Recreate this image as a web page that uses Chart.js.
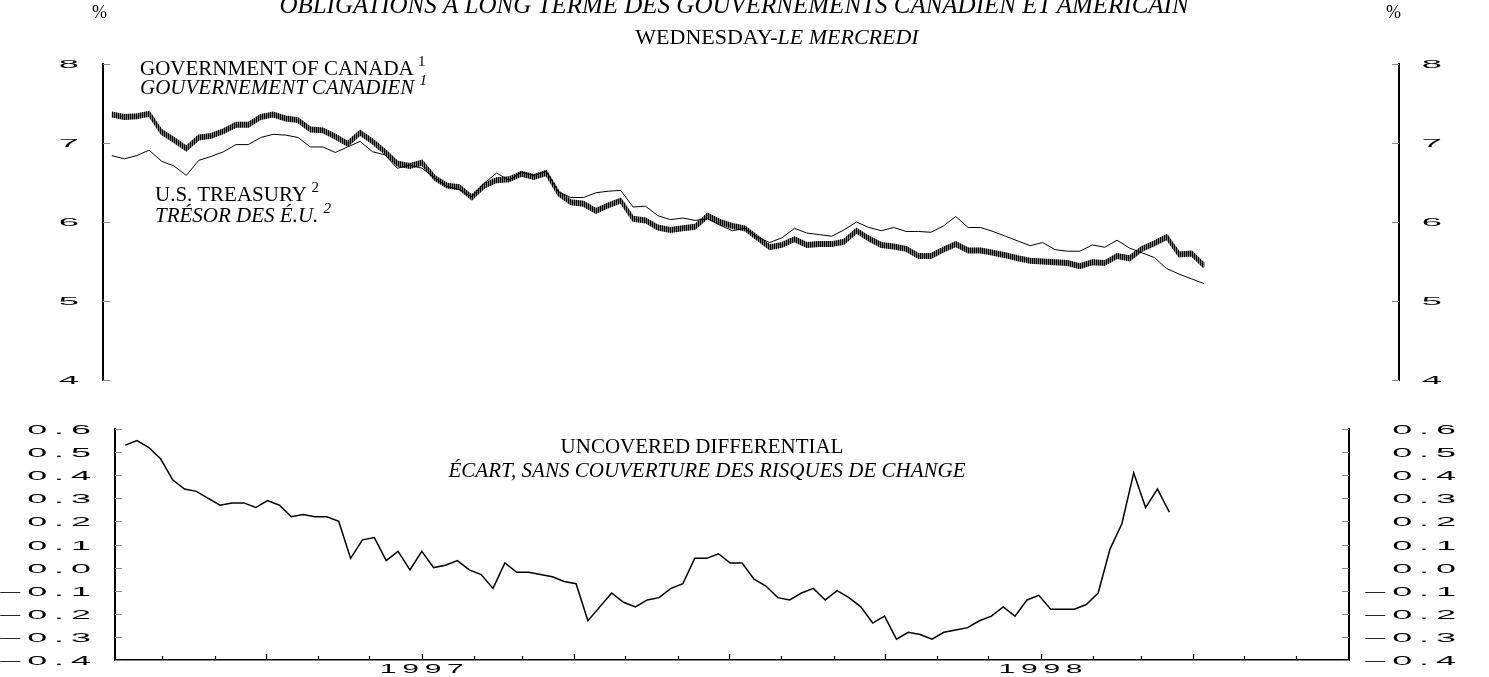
<!DOCTYPE html>
<html>
<head>
<meta charset="utf-8">
<script src="https://cdn.jsdelivr.net/npm/chart.js@4.4.1/dist/chart.umd.min.js"></script>
<style>
  html, body { margin: 0; padding: 0; background: #fff; }
  body { position: relative; width: 1489px; height: 677px; overflow: hidden; font-family: "Liberation Serif", serif; color: #000; }
  canvas { position: absolute; left: 0; }
  .lbl { position: absolute; white-space: nowrap; font-size: 21px; line-height: 21px; }
  .it { font-style: italic; }
  .sup { font-size: 15px; position: relative; top: -9px; }
  .ctr { transform: translateX(-50%); }
</style>
</head>
<body>
<canvas id="rates" width="1489" height="400" style="top:0"></canvas>
<canvas id="spread" width="1489" height="277" style="top:400px"></canvas>

<div class="lbl" style="left:92px;top:3px;font-size:18px;line-height:18px">%</div>
<div class="lbl" style="left:1386px;top:3px;font-size:18px;line-height:18px">%</div>
<div class="lbl it ctr" style="left:734px;top:-8px;font-size:25px;line-height:25px">OBLIGATIONS À LONG TERME DES GOUVERNEMENTS CANADIEN ET AMÉRICAIN</div>
<div class="lbl ctr" style="left:777px;top:26px;font-size:22px;line-height:22px">WEDNESDAY-<span class="it">LE MERCREDI</span></div>

<div class="lbl" style="left:140px;top:58px">GOVERNMENT OF CANADA <span class="sup">1</span></div>
<div class="lbl it" style="left:140px;top:77px">GOUVERNEMENT CANADIEN <span class="sup">1</span></div>
<div class="lbl" style="left:155px;top:184px">U.S. TREASURY <span class="sup">2</span></div>
<div class="lbl it" style="left:155px;top:205px">TRÉSOR DES É.U. <span class="sup">2</span></div>

<div class="lbl ctr" style="left:702px;top:436px">UNCOVERED DIFFERENTIAL</div>
<div class="lbl it ctr" style="left:707px;top:460px">ÉCART, SANS COUVERTURE DES RISQUES DE CHANGE</div>

<script>
const DAY = 864e5;
const axisBase = Date.UTC(1996, 6, 1);
const firstWednesday = Date.UTC(1996, 6, 10);

// weekly (Wednesday) yields, %
const canada = [
  7.36, 7.33, 7.34, 7.37, 7.14, 7.04, 6.93, 7.07, 7.09, 7.15,
  7.23, 7.23, 7.33, 7.36, 7.31, 7.29, 7.17, 7.16, 7.08, 6.99,
  7.13, 7.02, 6.89, 6.74, 6.71, 6.75, 6.56, 6.46, 6.44, 6.31,
  6.46, 6.53, 6.54, 6.61, 6.57, 6.62, 6.36, 6.25, 6.23, 6.14,
  6.21, 6.27, 6.04, 6.02, 5.93, 5.90, 5.92, 5.94, 6.08, 6.00,
  5.95, 5.92, 5.80, 5.68, 5.71, 5.78, 5.71, 5.72, 5.72, 5.75,
  5.89, 5.79, 5.71, 5.69, 5.66, 5.57, 5.57, 5.65, 5.72, 5.64,
  5.64, 5.61, 5.58, 5.54, 5.51, 5.50, 5.49, 5.48, 5.44, 5.49,
  5.48, 5.57, 5.54, 5.66, 5.73, 5.81, 5.59, 5.60, 5.45
];
const usTreasury = [
  6.84, 6.80, 6.84, 6.91, 6.77, 6.71, 6.59, 6.78, 6.83, 6.89,
  6.98, 6.98, 7.07, 7.11, 7.10, 7.07, 6.95, 6.95, 6.88, 6.95,
  7.02, 6.89, 6.85, 6.68, 6.72, 6.68, 6.56, 6.45, 6.41, 6.32,
  6.49, 6.62, 6.53, 6.63, 6.59, 6.64, 6.38, 6.31, 6.31, 6.37,
  6.39, 6.40, 6.19, 6.20, 6.08, 6.03, 6.05, 6.02, 6.04, 5.96,
  5.89, 5.92, 5.81, 5.74, 5.80, 5.92, 5.86, 5.84, 5.82, 5.90,
  6.00, 5.93, 5.89, 5.93, 5.88, 5.88, 5.87, 5.95, 6.07, 5.93,
  5.93, 5.88, 5.82, 5.76, 5.70, 5.74, 5.65, 5.63, 5.63, 5.71,
  5.68, 5.77, 5.67, 5.61, 5.55, 5.41, 5.34, 5.28, 5.22
];
const differential = [
  0.53, 0.55, 0.52, 0.47, 0.38, 0.34, 0.33, 0.30, 0.27, 0.28,
  0.28, 0.26, 0.29, 0.27, 0.22, 0.23, 0.22, 0.22, 0.20, 0.04,
  0.12, 0.13, 0.03, 0.07, -0.01, 0.07, 0.00, 0.01, 0.03, -0.01,
  -0.03, -0.09, 0.02, -0.02, -0.02, -0.03, -0.04, -0.06, -0.07, -0.23,
  -0.17, -0.11, -0.15, -0.17, -0.14, -0.13, -0.09, -0.07, 0.04, 0.04,
  0.06, 0.02, 0.02, -0.05, -0.08, -0.13, -0.14, -0.11, -0.09, -0.14,
  -0.10, -0.13, -0.17, -0.24, -0.21, -0.31, -0.28, -0.29, -0.31, -0.28,
  -0.27, -0.26, -0.23, -0.21, -0.17, -0.21, -0.14, -0.12, -0.18, -0.18,
  -0.18, -0.16, -0.11, 0.08, 0.19, 0.41, 0.26, 0.34, 0.24
];
const yearLabels = ['1997', '1998'];

// x values: days since 1 July 1996
const weekDays = canada.map((_, i) => (firstWednesday - axisBase) / DAY + 7 * i);
const monthMarks = [];
for (let m = 0; m <= 24; m++) {
  monthMarks.push({ day: (Date.UTC(1996, 6 + m, 1) - axisBase) / DAY, major: m % 3 === 0 });
}
const yearMarks = yearLabels.map(y => ({ text: y, day: (Date.UTC(+y, 0, 1) - axisBase) / DAY }));

const pts = arr => arr.map((v, i) => ({ x: weekDays[i], y: v }));

function hatch() {
  const c = document.createElement('canvas');
  c.width = 2; c.height = 2;
  const g = c.getContext('2d');
  g.fillStyle = '#000'; g.fillRect(0, 0, 2, 2);
  g.fillStyle = '#7a7a7a'; g.fillRect(1, 0, 1, 2);
  return g.createPattern(c, 'repeat');
}

// wide, squat tick lettering like the original
function stretchText(ctx, text, x, y, align, f) {
  ctx.save();
  ctx.setTransform(1, 0, 0, 1, 0, 0);
  ctx.font = f.size + 'px "Liberation Sans"';
  ctx.letterSpacing = f.spacing + 'px';
  const w = ctx.measureText(text).width - f.spacing;
  let x0 = x;
  if (align === 'right') x0 = x - w * f.sx;
  else if (align === 'center') x0 = x - w * f.sx / 2;
  ctx.setTransform(f.sx, 0, 0, 1, x0, y + f.size * 0.36);
  ctx.textAlign = 'left';
  ctx.textBaseline = 'alphabetic';
  ctx.fillStyle = '#000';
  ctx.fillText(text, 0, 0);
  ctx.restore();
}

function axisMarks(cfg) {
  return {
    id: 'axisMarks',
    afterDraw(chart) {
      const ctx = chart.ctx;
      ctx.save();
      cfg.y.forEach(a => {
        const s = chart.scales[a.id];
        const edge = a.side === 'left' ? s.right : s.left;
        const dir = a.side === 'left' ? 1 : -1;
        const lx = edge + dir * -a.gap;
        s.ticks.forEach(t => {
          const y = Math.round(s.getPixelForValue(t.value)) + 0.5;
          ctx.strokeStyle = '#8a8a8a';
          ctx.lineWidth = 1;
          ctx.beginPath();
          ctx.moveTo(edge, y);
          ctx.lineTo(edge + dir * 7, y);
          ctx.stroke();
          stretchText(ctx, cfg.format(t.value), a.labelX || lx, y, a.align, cfg.text);
        });
      });
      if (cfg.x) {
        const s = chart.scales.x;
        ctx.strokeStyle = '#000';
        ctx.lineWidth = 1.2;
        cfg.x.marks.forEach(m => {
          if (m.day <= s.min + 2 || m.day >= s.max - 2) return;
          const x = Math.round(s.getPixelForValue(m.day)) + 0.5;
          ctx.beginPath();
          ctx.moveTo(x, s.top);
          ctx.lineTo(x, s.top - (m.major ? 6 : 4));
          ctx.stroke();
        });
        cfg.x.labels.forEach(l => stretchText(ctx, l.text, s.getPixelForValue(l.day), cfg.x.labelY, 'center', cfg.x.text));
      }
      ctx.restore();
    }
  };
}

// thick hatched ribbon for the Canada series
function ribbon(offsets) {
  return {
    id: 'ribbon',
    afterDatasetDraw(chart, args) {
      if (args.index !== 0) return;
      const ctx = chart.ctx, a = chart.chartArea;
      ctx.save();
      ctx.beginPath();
      ctx.rect(a.left, a.top - 8, a.right - a.left, a.bottom - a.top + 16);
      ctx.clip();
      offsets.forEach(dy => {
        ctx.save();
        ctx.translate(0, dy);
        args.meta.dataset.draw(ctx, a);
        ctx.restore();
      });
      ctx.restore();
    }
  };
}

const yAxis = (pos, min, max, step, width) => ({
  position: pos, min: min, max: max,
  ticks: { stepSize: step, display: false },
  grid: { display: false },
  border: { color: '#000', width: 2 },
  afterFit: s => { s.width = width; }
});

const common = {
  responsive: false,
  animation: false,
  elements: { point: { radius: 0 }, line: { tension: 0, borderJoinStyle: 'miter' } },
  plugins: { legend: { display: false }, tooltip: { enabled: false } }
};

new Chart(document.getElementById('rates'), {
  type: 'line',
  data: {
    datasets: [
      { label: 'Government of Canada', data: pts(canada), yAxisID: 'yl', borderColor: hatch(), borderWidth: 2, order: 2 },
      { label: 'U.S. Treasury', data: pts(usTreasury), yAxisID: 'yl', borderColor: '#000', borderWidth: 1, order: 1 }
    ]
  },
  options: Object.assign({}, common, {
    layout: { padding: { top: 64, bottom: 20, left: 0, right: 0 }, autoPadding: false },
    scales: {
      x: { type: 'linear', display: false, min: 4, max: 735 },
      yl: yAxis('left', 4, 8, 1, 103),
      yr: yAxis('right', 4, 8, 1, 90)
    }
  }),
  plugins: [ribbon([-2, -1, 1, 2]), axisMarks({
    format: v => String(v),
    text: { size: 11, sx: 3.3, spacing: 0 },
    y: [
      { id: 'yl', side: 'left', gap: 24, align: 'right' },
      { id: 'yr', side: 'right', gap: 43, align: 'right' }
    ]
  })]
});

new Chart(document.getElementById('spread'), {
  type: 'line',
  data: {
    datasets: [
      { label: 'Uncovered differential', data: pts(differential), yAxisID: 'yl', borderColor: '#000', borderWidth: 1.5 }
    ]
  },
  options: Object.assign({}, common, {
    layout: { padding: { top: 29, bottom: 0, left: 0, right: 0 }, autoPadding: false },
    scales: {
      x: {
        type: 'linear', position: 'bottom', min: 3, max: 731,
        ticks: { display: false },
        grid: { display: false, drawTicks: false },
        border: { color: '#000', width: 1.5 },
        afterFit: s => { s.height = 17; }
      },
      yl: yAxis('left', -0.4, 0.6, 0.1, 115),
      yr: yAxis('right', -0.4, 0.6, 0.1, 140)
    }
  }),
  plugins: [axisMarks({
    format: v => Math.abs(v) < 1e-9 ? '0.0' : (v < 0 ? '\u2013' : '') + Math.abs(v).toFixed(1),
    text: { size: 12, sx: 3.0, spacing: 2.3 },
    y: [
      { id: 'yl', side: 'left', gap: 24, align: 'right' },
      { id: 'yr', side: 'right', gap: 107, align: 'right' }
    ],
    x: {
      marks: monthMarks,
      labels: yearMarks,
      labelY: 268.5,
      text: { size: 12, sx: 2.5, spacing: 2.3 }
    }
  })]
});
</script>
</body>
</html>
